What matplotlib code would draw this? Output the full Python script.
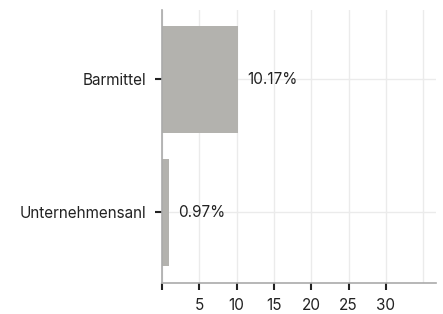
import numpy as np
import matplotlib
matplotlib.use("Agg")
from matplotlib import pyplot as plt

categories = ["Unternehmensanl", "Barmittel"]
values = [0.97, 10.17]
xticks = [0, 5, 10, 15, 20, 25, 30]
xtick_labels = ["", "5", "10", "15", "20", "25", "30"]

plt.rcParams['font.family'] = ['Inter', 'DejaVu Sans']

fig = plt.figure(figsize=(4.43, 3.14), dpi=100)
ax = fig.add_axes([162/443, 1 - 283/314, (436 - 162)/443, (283 - 10)/314])

y = np.arange(len(categories))
ax.barh(y, values, height=0.8, color="#b3b2ae", zorder=2)

for yi, v in zip(y, values):
    ax.annotate(f"{v:.2f}%", (v, yi), xytext=(6.5, 0), textcoords="offset points",
                va="center", ha="left", fontsize=11, color="#222222")

ax.set_xlim(0, 36.7)
ax.set_ylim(-0.53, 1.52)
ax.set_yticks(y)
ax.set_yticklabels(categories, fontsize=11, color="#222222")
ax.set_xticks(xticks)
ax.set_xticklabels(xtick_labels, fontsize=11, color="#222222")
ax.set_xticks([35], minor=True)
ax.tick_params(axis="x", which="minor", length=0)

ax.grid(True, which="both", color="#ebebeb", linewidth=1, zorder=0)
ax.set_axisbelow(True)

for s in ["top", "right"]:
    ax.spines[s].set_visible(False)
for s in ["left", "bottom"]:
    ax.spines[s].set_color("#aaaaaa")
    ax.spines[s].set_linewidth(1.2)

ax.tick_params(axis="both", which="major", length=5, width=1.5, color="#222222", pad=6)

fig.savefig("out.png", dpi=100)
